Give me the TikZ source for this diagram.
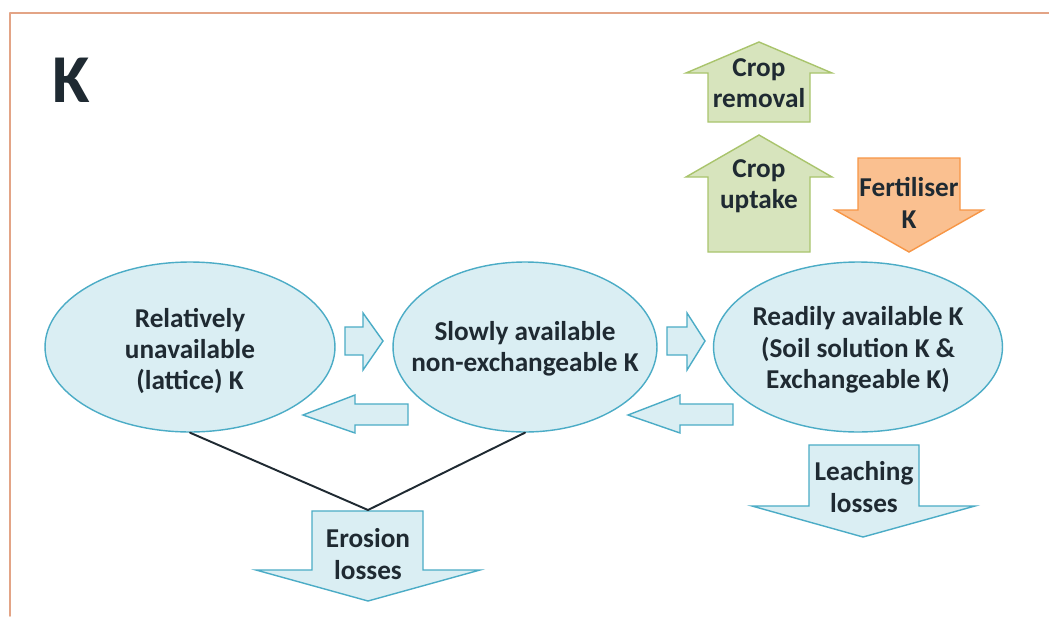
\documentclass[tikz,border=0pt]{standalone}
\usepackage{fontspec}
\setmainfont{Carlito}
\usetikzlibrary{shapes.geometric}
\definecolor{poolfill}{HTML}{DAEEF3}
\definecolor{poolline}{HTML}{4BACC6}
\definecolor{cropfill}{HTML}{D7E4BD}
\definecolor{cropline}{HTML}{A9C46C}
\definecolor{fertfill}{HTML}{FAC090}
\definecolor{fertline}{HTML}{F79646}
\definecolor{ink}{HTML}{1F2A32}
\definecolor{frame}{HTML}{E3A486}
\tikzset{
  pool/.style={ellipse,draw=poolline,fill=poolfill,line width=0.8pt,inner sep=0pt},
  poolarrow/.style={draw=poolline,fill=poolfill,line width=0.8pt,line join=miter},
  croparrow/.style={draw=cropline,fill=cropfill,line width=0.8pt,line join=miter},
  fertarrow/.style={draw=fertline,fill=fertfill,line width=0.8pt,line join=miter},
  label/.style={font=\bfseries\fontsize{15.5}{17.8}\selectfont,text=ink,align=center,inner sep=0pt},
  link/.style={line width=1.1pt,color=ink}
}
\begin{document}
\begin{tikzpicture}[line cap=round,line join=round,x=0.02cm,y=-0.02cm]
\useasboundingbox (0,0) rectangle (1049,616);
\fill[white] (0,0) rectangle (1049,616);
% frame
\draw [frame,line width=0.9pt] (1049,13)-- (10,13)-- (10,616);
\node[font=\bfseries\fontsize{39}{41}\selectfont,text=ink,inner sep=0pt] (title) at (71,80) {K};
% pools of K
\node[pool,minimum width=5.8cm,minimum height=3.4cm] (rel) at (190,347) {};
\node[pool,minimum width=5.28cm,minimum height=3.4cm] (slow) at (525,347) {};
\node[pool,minimum width=5.78cm,minimum height=3.4cm] (ready) at (858,347) {};
\node[label] (reltext) at (190,351) {Relatively\\unavailable\\(lattice) K};
\node[label] (slowtext) at (525,349) {Slowly available\\non-exchangeable K};
\node[label] (readytext) at (858,350) {Readily available K\\(Soil solution K \&\\Exchangeable K)};
% exchange arrows
\draw [poolarrow] (345,327)-- (363,327)-- (363,313)-- (383,341)-- (363,370)-- (363,355)-- (345,355)-- cycle;
\draw [poolarrow] (667,327)-- (687,327)-- (687,313)-- (705,341)-- (687,370)-- (687,355)-- (667,355)-- cycle;
\draw [poolarrow] (408,404)-- (355,404)-- (355,395)-- (303,415)-- (355,433)-- (355,425)-- (408,425)-- cycle;
\draw [poolarrow] (733,404)-- (680,404)-- (680,395)-- (628,415)-- (680,433)-- (680,425)-- (733,425)-- cycle;
% crop and fertiliser
\draw [croparrow] (759,42)-- (832,73)-- (810,73)-- (810,122)-- (708,122)-- (708,73)-- (686,73)-- cycle;
\draw [croparrow] (759,135)-- (832,177)-- (810,177)-- (810,252)-- (708,252)-- (708,177)-- (686,177)-- cycle;
\draw [fertarrow] (858,158)-- (960,158)-- (960,210)-- (983,210)-- (909,252)-- (835,210)-- (858,210)-- cycle;
\node[label] (removal) at (759,83) {Crop\\removal};
\node[label] (uptake) at (759,186) {Crop\\uptake};
\node[label] (fert) at (909,203) {Fertiliser\\K};
% losses
\draw [poolarrow] (312,511)-- (423,511)-- (423,570)-- (480,570)-- (368,601)-- (256,570)-- (312,570)-- cycle;
\draw [poolarrow] (809,445)-- (919,445)-- (919,506)-- (975,506)-- (863,537)-- (752,506)-- (809,506)-- cycle;
\node[label] (erosion) at (368,554) {Erosion\\losses};
\node[label] (leaching) at (864,487) {Leaching\\losses};
\coordinate (erotop) at (368,510);
\draw [link] (rel.south)-- (erotop);
\draw [link] (slow.south)-- (erotop);
\end{tikzpicture}
\end{document}
